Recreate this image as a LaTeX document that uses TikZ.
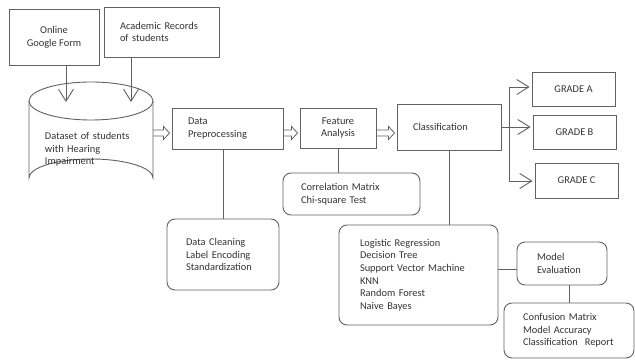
\documentclass[tikz,border=0pt]{standalone}
\usepackage{fontspec}
\setmainfont{Carlito}
\usetikzlibrary{arrows.meta,calc}
\tikzset{
  every node/.style={font=\fontsize{10.4}{12.6}\selectfont, text=black!80},
  ln/.style={draw=black!62, line width=0.9pt},
  sq/.style={ln, rectangle, inner ysep=1pt, align=left},
  rb/.style={ln, rectangle, rounded corners=8pt, inner ysep=1pt, align=left},
  barb/.style={ln, -{Straight Barb[length=12pt,width=15pt,line width=0.9pt]}},
}
\newcommand{\hollowarrow}[3]{%
  \draw[ln, line width=0.8pt] let \p1=(#1.east), \p2=(#2.west) in
    (\x1,#3+3) -- (\x2-6-2,#3+3) -- (\x2-6-2,#3+6.5) -- (\x2-2,#3) --
    (\x2-6-2,#3-6.5) -- (\x2-6-2,#3-3) -- (\x1,#3-3);}
\begin{document}
\begin{tikzpicture}[x=1pt,y=-1pt]
\useasboundingbox (0,0) rectangle (635,363);
% sources
\node[sq, align=center, minimum width=90, minimum height=56] (on) at (54,37) {Online\\Google Form};
\node[sq, text width=83, inner xsep=16, minimum height=50] (ar) at (161.5,32) {Academic Records\\of students};
% cylinder
\draw[ln] (29,101) -- (29,178) arc[start angle=180, end angle=360, x radius=62, y radius=19] -- (153,101);
\draw[ln] (91,101) ellipse[x radius=62, y radius=19];
\node[rectangle, text width=92, inner xsep=16, minimum height=115, align=left] (ds) at (91,149.5) {\mbox{Dataset of students}\\with Hearing\\Impairment};
\coordinate (t1) at (66,102);
\coordinate (t2) at (131,102);
\draw[barb] (t1 |- on.south) -- (t1);
\draw[barb] (t2 |- ar.south) -- (t2);
% main pipeline
\node[sq, text width=79, inner xsep=16, minimum height=41] (dp) at (227.5,128.5) {Data\\Preprocessing};
\node[sq, align=center, minimum width=76, minimum height=40] (fa) at (338,128) {Feature\\Analysis};
\node[sq, text width=72, inner xsep=16, minimum height=46] (cl) at (449,127) {Classification};
\hollowarrow{ds}{dp}{133}
\hollowarrow{dp}{fa}{133}
\hollowarrow{fa}{cl}{133}
% grades
\node[sq, align=center, minimum width=83, minimum height=34] (ga) at (573.5,89) {GRADE A};
\node[sq, align=center, minimum width=83, minimum height=34] (gb) at (574.5,132) {GRADE B};
\node[sq, align=center, minimum width=83, minimum height=35] (gc) at (576.5,180.5) {GRADE C};
\coordinate (br) at (509,127);
\draw[ln] (cl.east) -- (br);
\draw[ln] (br |- 0,87) -- (br |- 0,181);
\draw[barb, shorten >=2pt] (br |- 0,87) -- (ga.west |- 0,87);
\draw[barb, shorten >=2pt] (br) -- (gb.west |- br);
\draw[barb, shorten >=2pt] (br |- 0,181) -- (gc.west |- 0,181);
% details
\node[rb, text width=101, inner xsep=18, minimum height=42] (cm) at (351.5,194) {Correlation Matrix\\Chi-square Test};
\node[rb, text width=74, inner xsep=19, minimum height=71] (dc) at (223,254.5) {Data Cleaning\\Label Encoding\\Standardization};
\node[rb, text width=117, inner xsep=21, minimum height=100] (lr) at (418.5,275) {Logistic Regression\\Decision Tree\\\mbox{Support Vector Machine}\\KNN\\Random Forest\\Naive Bayes};
\node[rb, text width=50, inner xsep=20, minimum height=43] (me) at (562,263.5) {Model\\Evaluation};
\node[rb, text width=92, inner xsep=19, minimum height=55] (cf) at (569,330.5) {Confusion Matrix\\Model Accuracy\\\mbox{Classification\ \ Report}};
\draw[ln] (fa.south) -- (fa.south |- cm.north);
\draw[ln] (dc.north) -- (dc.north |- dp.south);
\draw[ln] (cl.south) -- (cl.south |- lr.north);
\draw[ln] ([yshift=-5.5pt]me.west) -- ([yshift=-5.5pt]me.west -| lr.east);
\draw[ln] (cf.north) -- (cf.north |- me.south);
\end{tikzpicture}
\end{document}
